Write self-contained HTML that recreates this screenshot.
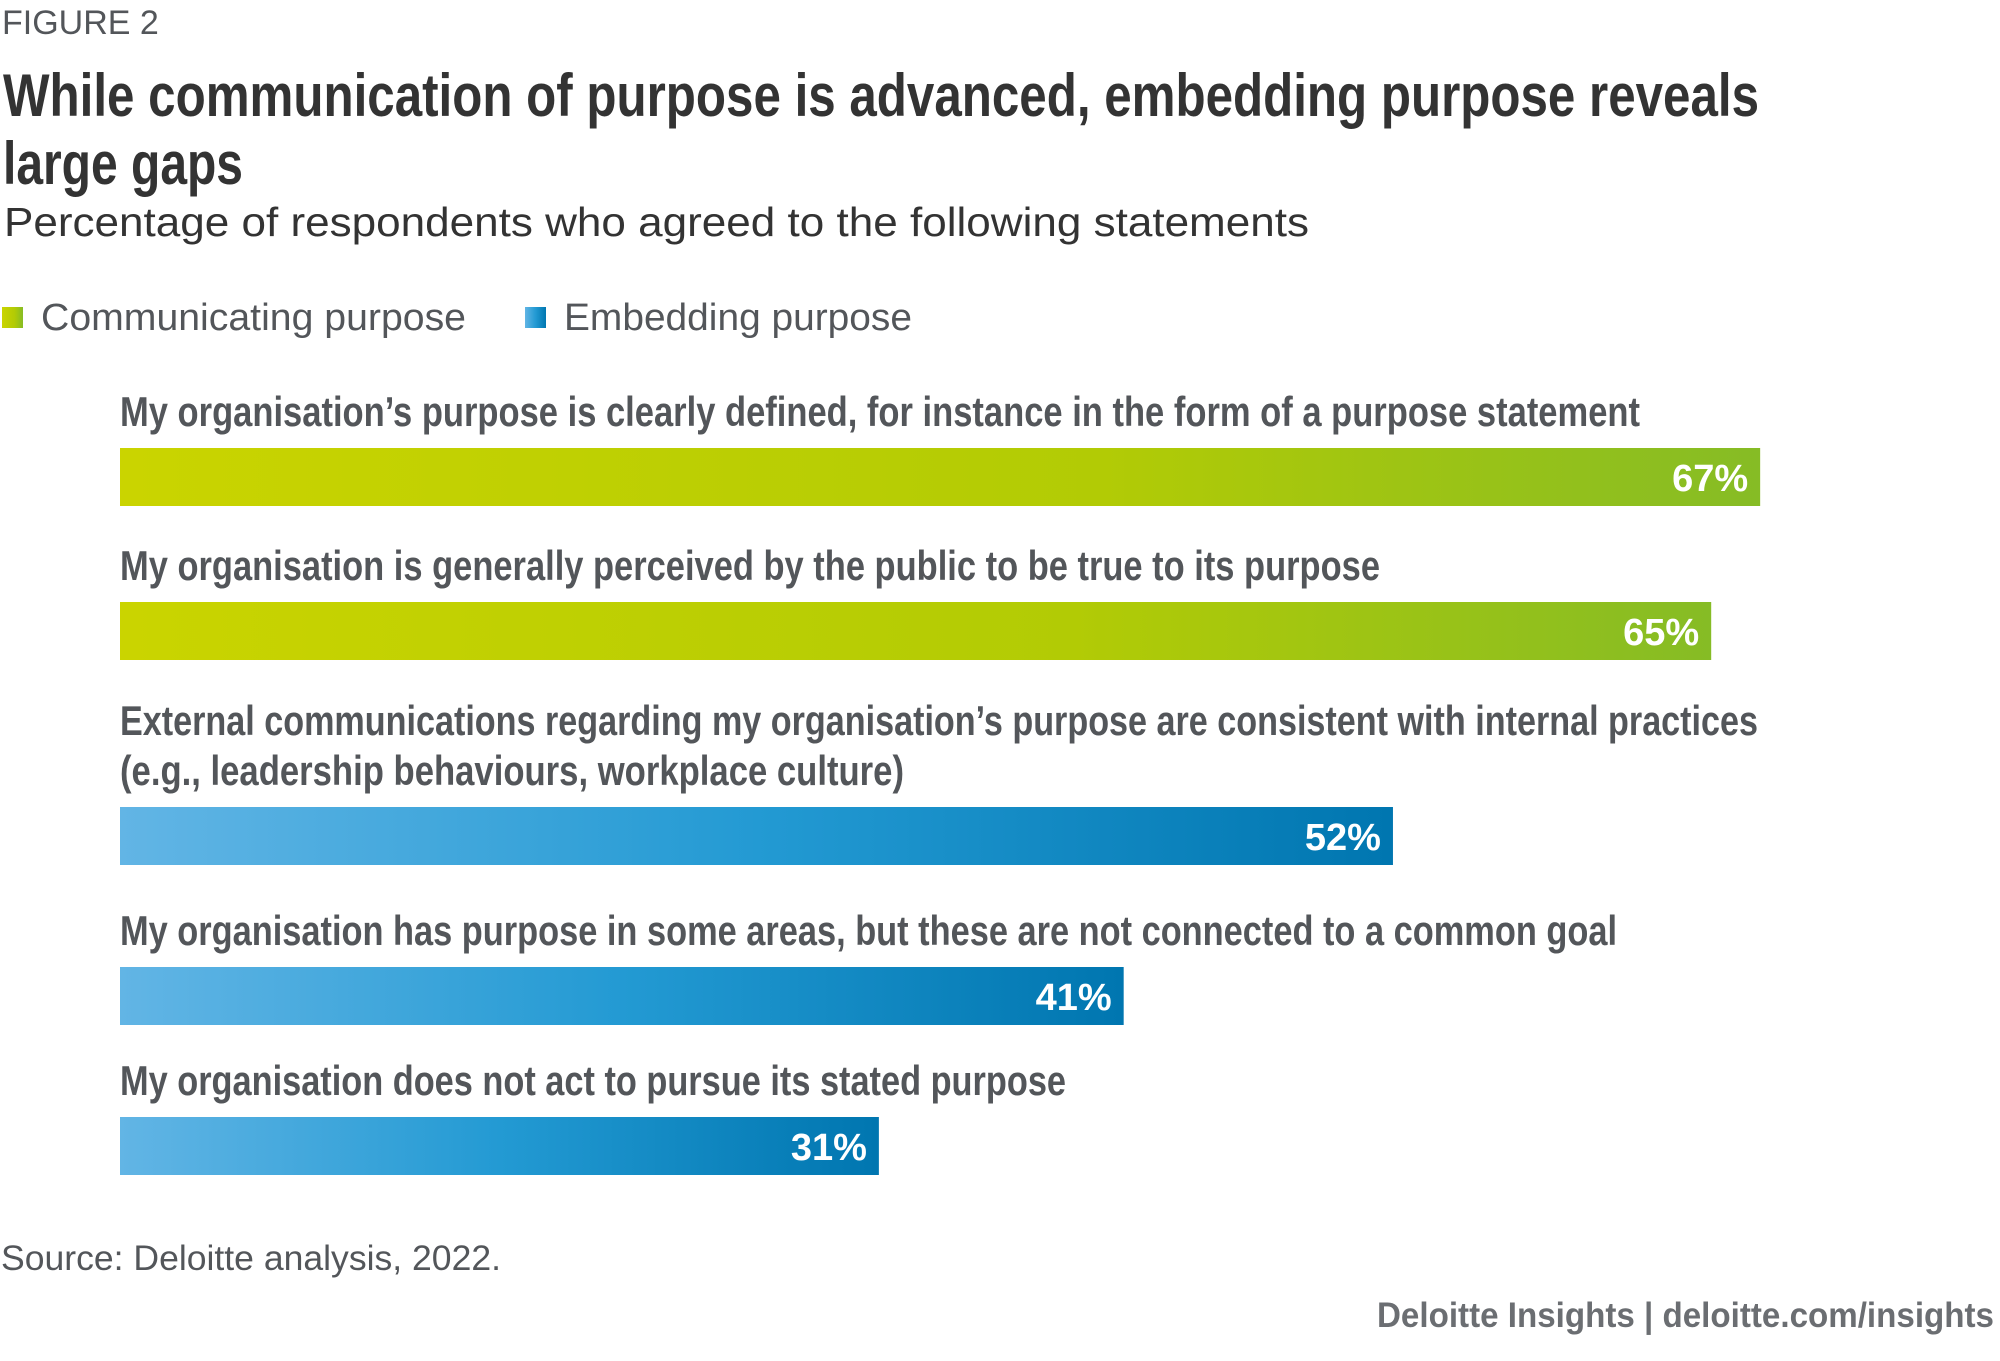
<!DOCTYPE html>
<html><head><meta charset="utf-8"><style>
html,body{margin:0;padding:0;background:#fff;}
svg{display:block;}
text{font-family:"Liberation Sans",sans-serif;}
.cond{font-family:"Liberation Sans Narrow","Liberation Sans",sans-serif;font-weight:bold;}
</style></head><body>
<svg id="chart" width="2000" height="1361" viewBox="0 0 2000 1361">
<defs>
<linearGradient id="gGreen" x1="0" x2="1" y1="0" y2="0"><stop offset="0" stop-color="#cad400"/><stop offset="0.6" stop-color="#b2cb05"/><stop offset="1" stop-color="#86bc25"/></linearGradient>
<linearGradient id="gBlue" x1="0" x2="1" y1="0" y2="0"><stop offset="0" stop-color="#62b5e5"/><stop offset="0.5" stop-color="#239ad3"/><stop offset="1" stop-color="#0076b0"/></linearGradient>
</defs>
<text x="2" y="34" font-size="34" fill="#53565a">FIGURE 2</text>
<text class="cond" x="3" y="116" font-size="60" fill="#333" textLength="1756" lengthAdjust="spacingAndGlyphs">While communication of purpose is advanced, embedding purpose reveals</text>
<text class="cond" x="3" y="184" font-size="60" fill="#333" textLength="240" lengthAdjust="spacingAndGlyphs">large gaps</text>
<text x="4" y="236" font-size="41" fill="#333" textLength="1305" lengthAdjust="spacingAndGlyphs">Percentage of respondents who agreed to the following statements</text>
<g>
<rect x="2" y="307" width="21" height="21" fill="url(#gGreen)"/>
<text x="41" y="330" font-size="38" fill="#53565a" textLength="425" lengthAdjust="spacingAndGlyphs">Communicating purpose</text>
<rect x="525" y="307" width="21" height="21" fill="url(#gBlue)"/>
<text x="564" y="330" font-size="38" fill="#53565a" textLength="348" lengthAdjust="spacingAndGlyphs">Embedding purpose</text>
</g>
<g id="bars"></g>
<text x="1" y="1270" font-size="35" fill="#53565a" textLength="500" lengthAdjust="spacingAndGlyphs">Source: Deloitte analysis, 2022.</text>
<text x="1377" y="1327" font-size="35" font-weight="bold" fill="#6b6e72" textLength="617" lengthAdjust="spacingAndGlyphs">Deloitte Insights | deloitte.com/insights</text>
</svg>
<script>
const categories = [
 ["My organisation’s purpose is clearly defined, for instance in the form of a purpose statement"],
 ["My organisation is generally perceived by the public to be true to its purpose"],
 ["External communications regarding my organisation’s purpose are consistent with internal practices","(e.g., leadership behaviours, workplace culture)"],
 ["My organisation has purpose in some areas, but these are not connected to a common goal"],
 ["My organisation does not act to pursue its stated purpose"]
];
const values = [67, 65, 52, 41, 31];
const seriesGroup = ["communicating","communicating","embedding","embedding","embedding"];

const NS = "http://www.w3.org/2000/svg";
const labelWidths = [[1520],[1260],[1638,784],[1497],[946]];
const x0 = 120, pxPer = 24.48;
function xScale(v){ return x0 + v * pxPer; }
const barTops = [448, 602, 807, 967, 1117];
const barH = 58;
const g = document.getElementById('bars');
categories.forEach((lines, i) => {
  const top = barTops[i];
  lines.forEach((ln, j) => {
    const t = document.createElementNS(NS, 'text');
    t.setAttribute('class', 'cond');
    t.setAttribute('x', x0);
    t.setAttribute('y', top - 22 - (lines.length - 1 - j) * 50);
    t.setAttribute('font-size', '42');
    t.setAttribute('fill', '#53565a');
    t.setAttribute('textLength', labelWidths[i][j]);
    t.setAttribute('lengthAdjust', 'spacingAndGlyphs');
    t.textContent = ln;
    
    
    g.appendChild(t);
  });
  const r = document.createElementNS(NS, 'rect');
  r.setAttribute('x', x0);
  r.setAttribute('y', top);
  r.setAttribute('width', xScale(values[i]) - x0);
  r.setAttribute('height', barH);
  r.setAttribute('fill', seriesGroup[i] === 'communicating' ? 'url(#gGreen)' : 'url(#gBlue)');
  
  
  g.appendChild(r);
  const v = document.createElementNS(NS, 'text');
  v.setAttribute('x', xScale(values[i]) - 12);
  v.setAttribute('y', top + 43);
  v.setAttribute('font-size', '38');
  v.setAttribute('font-weight', 'bold');
  v.setAttribute('fill', '#fff');
  v.setAttribute('text-anchor', 'end');
  v.textContent = values[i] + '%';
  
  
  g.appendChild(v);
});
</script>
</body></html>
